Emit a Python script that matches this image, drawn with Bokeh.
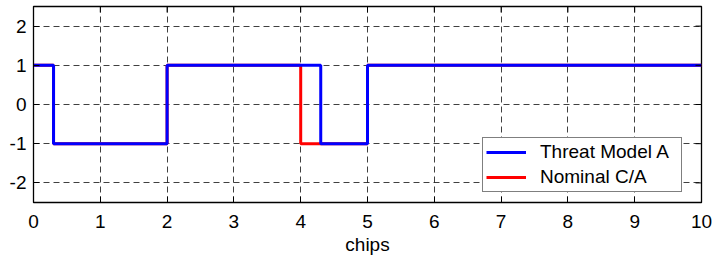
import math
from bokeh.plotting import figure
from bokeh.models import Range1d, FixedTicker, Legend, LegendItem
from bokeh.embed import file_html
from bokeh.resources import INLINE

# Data
tm_a_x = [0, 0.3, 2, 4.3, 5, 10]
tm_a_y = [1, -1, 1, -1, 1, 1]
nom_x = [0, 0.3, 2, 4, 5, 10]
nom_y = [1, -1, 1, -1, 1, 1]
x_ticks = [0, 1, 2, 3, 4, 5, 6, 7, 8, 9, 10]
y_ticks = [-2, -1, 0, 1, 2]
x_min, x_max = 0, 10
y_min, y_max = -2.5, 2.5

FONT = "Liberation Sans"
FS = "19px"

p = figure(width=712, height=259, output_backend="svg", toolbar_location=None,
           x_range=Range1d(x_min, x_max), y_range=Range1d(y_min, y_max),
           min_border_left=33, min_border_right=11, min_border_top=6,
           min_border_bottom=57)
p.background_fill_color = "white"
p.border_fill_color = "white"
p.outline_line_color = "black"
p.outline_line_width = 1.3

r_nom = p.step(nom_x, nom_y, mode="after", line_color="#FF0000", line_width=3)
r_tma = p.step(tm_a_x, tm_a_y, mode="after", line_color="#0000FF", line_width=3)

# mirrored inward ticks on top and right edges (clipped to the frame)
p.scatter(x_ticks, [y_max] * len(x_ticks), marker="dash", size=12, angle=math.pi / 2,
          line_color="black", line_width=1)
p.scatter([x_max] * len(y_ticks), y_ticks, marker="dash", size=12,
          line_color="black", line_width=1)

for ax in p.xaxis + p.yaxis:
    ax.major_label_text_font = FONT
    ax.major_label_text_font_size = FS
    ax.major_label_text_color = "black"
    ax.axis_line_color = "black"
    ax.major_tick_line_color = "black"
    ax.major_tick_in = 6
    ax.major_tick_out = 0
    ax.minor_tick_line_color = None
p.xaxis.major_label_standoff = 12
p.yaxis.major_label_standoff = 7
p.xaxis.ticker = FixedTicker(ticks=x_ticks)
p.yaxis.ticker = FixedTicker(ticks=y_ticks)
p.xaxis.major_label_overrides = {t: str(t) for t in x_ticks}
p.yaxis.major_label_overrides = {t: str(t) for t in y_ticks}
p.xaxis.axis_label = "chips"
p.xaxis.axis_label_text_font = FONT
p.xaxis.axis_label_text_font_size = FS
p.xaxis.axis_label_text_font_style = "normal"
p.xaxis.axis_label_text_color = "black"
p.xaxis.axis_label_standoff = 3

p.xgrid.ticker = FixedTicker(ticks=x_ticks[1:-1])
p.ygrid.ticker = FixedTicker(ticks=y_ticks)
for g in (p.xgrid, p.ygrid):
    g.grid_line_color = "black"
    g.grid_line_alpha = 0.75
    g.grid_line_dash = "6 4"
    g.grid_line_width = 1

legend = Legend(items=[LegendItem(label="Threat Model A", renderers=[r_tma]),
                       LegendItem(label="Nominal C/A", renderers=[r_nom])],
                location=(449, 10))
legend.label_text_font = FONT
legend.label_text_font_size = FS
legend.label_text_color = "black"
legend.border_line_color = "black"
legend.border_line_width = 1
legend.background_fill_alpha = 1
legend.padding = 3
legend.spacing = 3
legend.glyph_width = 40
legend.glyph_height = 20
legend.label_height = 20
legend.label_width = 138
legend.label_standoff = 14
legend.margin = 0
p.add_layout(legend, "center")

open("out.html", "w").write(file_html(p, INLINE))
